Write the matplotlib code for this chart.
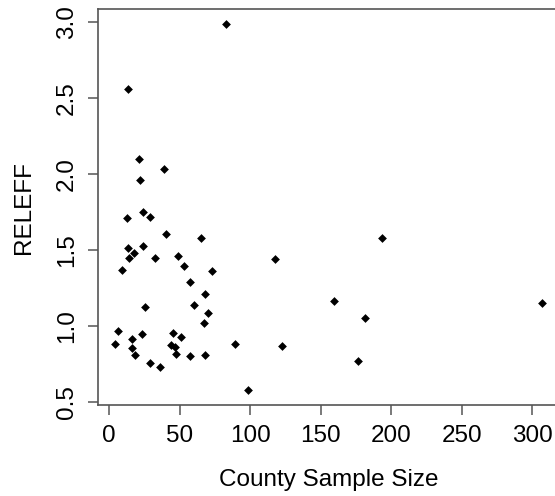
import matplotlib
matplotlib.use('Agg')
import matplotlib.pyplot as plt

plt.rcParams['font.family'] = ['Liberation Sans', 'DejaVu Sans']

# county sample size vs relative efficiency
sample_size = [83, 13.2, 21.3, 39.2, 22, 24.3, 12.5, 29.1, 40.4, 65.2,
               13.2, 24.3, 17.7, 14.4, 32.4, 49.2, 117.5, 9, 53.4, 73.3,
               57.4, 68.3, 25.3, 60.3, 70.4, 67.4, 6.4, 23.4, 45.6, 51.3,
               16.3, 4.5, 89.4, 44, 46.8, 122.5, 16.1, 18.2, 47.8, 57.4,
               68.3, 29.1, 36.2, 98.8, 193.6, 159.3, 181.6, 176.8, 306.9]
releff = [2.99, 2.557, 2.10, 2.03, 1.96, 1.752, 1.708, 1.713, 1.603, 1.575,
          1.511, 1.522, 1.482, 1.445, 1.449, 1.46, 1.439, 1.37, 1.393, 1.362,
          1.285, 1.211, 1.125, 1.134, 1.084, 1.02, 0.965, 0.945, 0.954, 0.925,
          0.91, 0.88, 0.882, 0.871, 0.857, 0.866, 0.851, 0.805, 0.814, 0.798,
          0.807, 0.752, 0.73, 0.574, 1.579, 1.162, 1.053, 0.765, 1.147]

x_ticks = [0, 50, 100, 150, 200, 250, 300]
y_ticks = [0.5, 1.0, 1.5, 2.0, 2.5, 3.0]


def main():
    fig = plt.figure(figsize=(5.55, 4.96), dpi=100)
    # right edge of the box sits just past the figure, as in the original
    ax = fig.add_axes([98.3 / 555, 91 / 496, 460.7 / 555, 396 / 496])

    ax.scatter(sample_size, releff, marker='D', s=20, color='black',
               linewidths=0)
    ax.margins(0.04)

    ax.set_xticks(x_ticks)
    ax.set_yticks(y_ticks)
    ax.set_yticklabels([f'{v:.1f}' for v in y_ticks], rotation=90,
                       va='center')
    ax.tick_params(direction='out', length=7.5, width=1.1, color='#555555',
                   labelsize=17.5, pad=7)

    for side in ax.spines.values():
        side.set_color('#555555')
        side.set_linewidth(1.2)

    ax.set_xlabel('County Sample Size', fontsize=17.5, va='top')
    ax.xaxis.set_label_coords(0.5, -0.162)
    ax.set_ylabel('RELEFF', fontsize=17.5)
    ax.yaxis.set_label_coords(-0.137, 0.5)

    fig.savefig('out.png', dpi=100)


if __name__ == '__main__':
    main()
